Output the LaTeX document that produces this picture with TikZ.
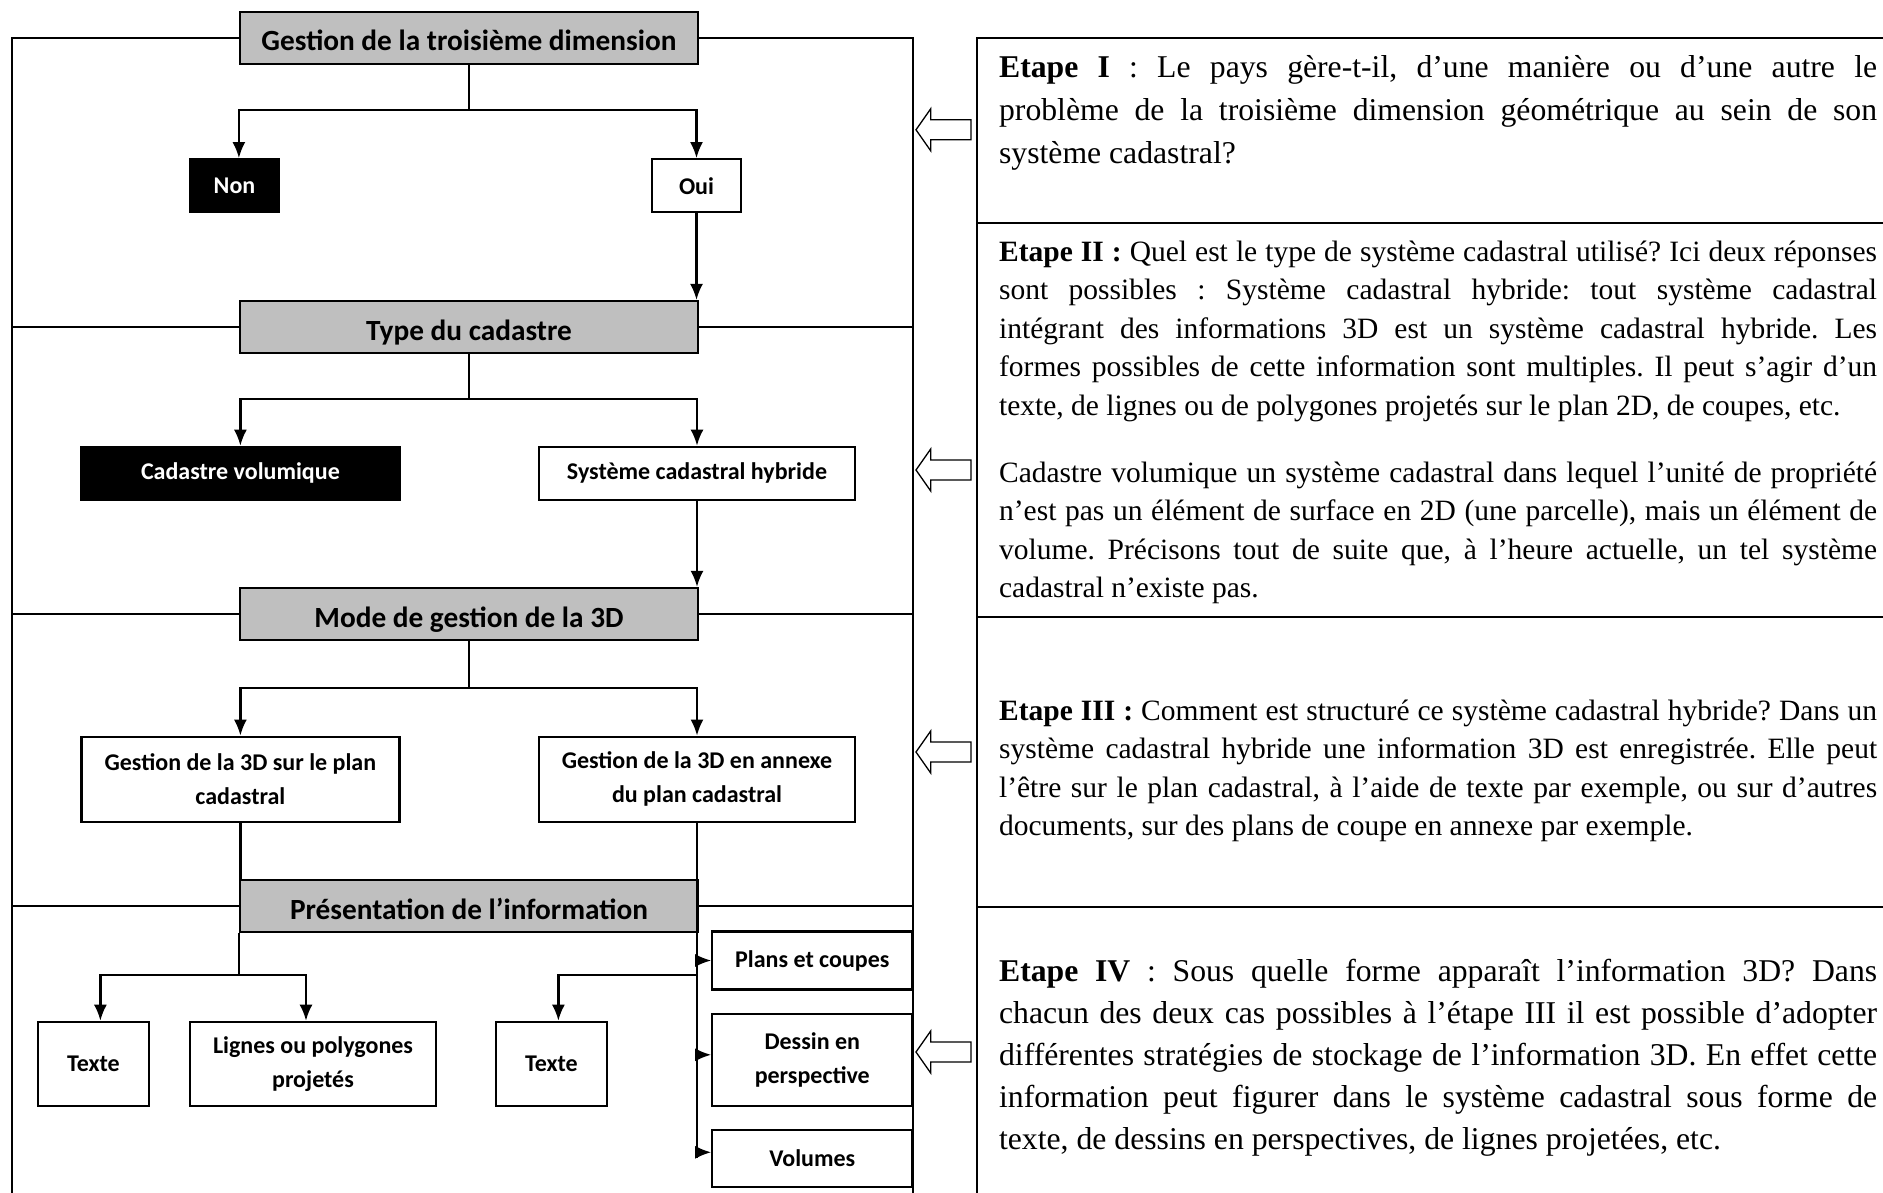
\documentclass[tikz,border=0pt]{standalone}
\usepackage{fontspec}
\setmainfont{Liberation Serif}
\newfontfamily\calib{Carlito}
\usepackage{tikz}
\usetikzlibrary{arrows.meta}
\definecolor{grisfond}{RGB}{191,191,191}
\frenchspacing
\tolerance=10000
\hyphenpenalty=10000
\exhyphenpenalty=10000
\hbadness=10000

\tikzset{
    fleche/.style={-{Latex[length=16pt,width=13pt]}},
    titre/.style={draw,fill=grisfond,minimum width=458pt,minimum height=52pt,inner sep=0pt,text height=26pt,text depth=0pt,font=\calib\bfseries\fontsize{29.3}{35}\selectfont},
    choix/.style={draw,fill=white,align=center,inner sep=0pt,font=\calib\bfseries\fontsize{24}{33.6}\selectfont},
    rejet/.style={choix,fill=black,text=white},
    etape/.style={anchor=north west,inner sep=0pt,text width=878pt,align=justify},
}

\begin{document}
\begin{tikzpicture}[x=1pt,y=-1pt,line width=2.2pt]
    \useasboundingbox (0,0) rectangle (1883,1193);
    \coordinate (fg) at (12,1200);
    \coordinate (fd) at (912.7,1200);

    \node[titre] (gest) at (469,37.7) {Gestion de la troisième dimension};
    \node[rejet,minimum width=89pt,minimum height=53pt] (non) at (234.5,185.7) {Non};
    \node[choix,minimum width=89pt,minimum height=53pt] (oui) at (696.5,185.7) {Oui};
    \node[titre] (type) at (469,327) {Type du cadastre};
    \node[rejet,minimum width=318pt,minimum height=53pt] (vol) at (240.4,473.3) {Cadastre volumique};
    \node[choix,minimum width=316pt,minimum height=53pt] (hyb) at (697,473.3) {Système cadastral hybride};
    \node[titre] (mode) at (469,614) {Mode de gestion de la 3D};
    \node[choix,minimum width=318pt,minimum height=85pt] (surplan) at (240.4,779.2) {Gestion de la 3D sur le plan\\cadastral};
    \node[choix,minimum width=316pt,minimum height=85pt] (annexe) at (697,779.2) {Gestion de la 3D en annexe\\du plan cadastral};
    \node[titre] (pres) at (469,906) {Présentation de l’information};
    \node[choix,minimum width=111pt,minimum height=84pt] (texteA) at (93.4,1063.8) {Texte};
    \node[choix,minimum width=246pt,minimum height=84pt] (lignes) at (313,1063.8) {Lignes ou polygones\\projetés};
    \node[choix,minimum width=111pt,minimum height=84pt] (texteB) at (551.4,1063.8) {Texte};
    \node[choix,minimum width=200pt,minimum height=58pt] (plans) at (812.3,960.5) {Plans et coupes};
    \node[choix,minimum width=200pt,minimum height=92pt] (dessin) at (812.3,1059.8) {Dessin en\\perspective};
    \node[choix,minimum width=200pt,minimum height=57pt] (volumes) at (812.3,1158.3) {Volumes};

    \draw (gest.west) -| (fg);
    \draw (gest.east) -| (fd);
    \draw (type.west) -- (type.west -| fg) (type.east) -- (type.east -| fd);
    \draw (mode.west) -- (mode.west -| fg) (mode.east) -- (mode.east -| fd);
    \draw (pres.west) -- (pres.west -| fg) (pres.east) -- (pres.east -| fd);

    \draw (gest.south) -- ++(0,45) coordinate (b1);
    \draw[fleche] (b1) -| (gest.west |- non.north);
    \draw[fleche] (b1) -| (oui.north);
    \draw[fleche] (oui.south) -- (oui.south |- type.north);
    \draw (type.south) -- ++(0,45) coordinate (b2);
    \draw[fleche] (b2) -| (vol.north);
    \draw[fleche] (b2) -| (hyb.north);
    \draw[fleche] (hyb.south) -- (hyb.south |- mode.north);
    \draw (mode.south) -- ++(0,47) coordinate (b3);
    \draw[fleche] (b3) -| (surplan.north);
    \draw[fleche] (b3) -| (annexe.north);
    \draw (surplan.south) -- (surplan.south |- pres.north);
    \draw (annexe.south) -- (annexe.south |- volumes.west);
    \draw (pres.south west) -- ++(0,42) coordinate (b4);
    \draw[fleche] (b4) -| ([xshift=7pt]texteA.north);
    \draw[fleche] (b4) -| ([xshift=-7pt]lignes.north);
    \draw[fleche] (annexe.south |- b4) -| ([xshift=7pt]texteB.north);
    \draw[fleche] (annexe.south |- plans.west) -- (plans.west);
    \draw[fleche] (annexe.south |- dessin.west) ++(0,-5) -- ([yshift=5pt]dessin.west);
    \draw[fleche] (annexe.south |- volumes.west) ++(0,-6) -- ([yshift=6pt]volumes.west);

    \foreach \y in {129.8,470,752,1052}
        \draw[line width=1.3pt] (916,\y) -- (930.7,\y-21) -- (930.7,\y-10) -- (971,\y-10) -- (971,\y+10) -- (930.7,\y+10) -- (930.7,\y+21) -- cycle;

    \draw (1890,37.7) -| (976.7,1200);
    \foreach \y in {222.7,617,907}
        \draw (976.7,\y) -- (1890,\y);

    \node[etape,font=\fontsize{31.7}{43}\selectfont] (et1) at (998,46.4) {\strut\textbf{Etape I} : Le pays gère-t-il, d’une manière ou d’une autre le\linebreak problème de la troisième dimension géométrique au sein de son\linebreak système cadastral?};
    \node[etape,font=\fontsize{29.5}{38.4}\selectfont] (et2) at (998,233.6) {\strut\textbf{Etape II :} Quel est le type de système cadastral utilisé? Ici deux réponses\linebreak sont possibles : Système cadastral hybride: tout système cadastral\linebreak intégrant des informations 3D est un système cadastral hybride. Les\linebreak formes possibles de cette information sont multiples. Il peut s’agir d’un\linebreak texte, de lignes ou de polygones projetés sur le plan 2D, de coupes, etc.\par\vspace{29pt}
        Cadastre volumique un système cadastral dans lequel l’unité de propriété\linebreak n’est pas un élément de surface en 2D (une parcelle), mais un élément de\linebreak volume. Précisons tout de suite que, à l’heure actuelle, un tel système\linebreak cadastral n’existe pas.};
    \node[etape,font=\fontsize{29.5}{38.4}\selectfont] (et3) at (998,692.6) {\strut\textbf{Etape III :} Comment est structuré ce système cadastral hybride? Dans un\linebreak système cadastral hybride une information 3D est enregistrée. Elle peut\linebreak l’être sur le plan cadastral, à l’aide de texte par exemple, ou sur d’autres\linebreak documents, sur des plans de coupe en annexe par exemple.};
    \node[etape,font=\fontsize{31.7}{42}\selectfont] (et4) at (998,950.5) {\strut\textbf{Etape IV} : Sous quelle forme apparaît l’information 3D? Dans\linebreak chacun des deux cas possibles à l’étape III il est possible d’adopter\linebreak différentes stratégies de stockage de l’information 3D. En effet cette\linebreak information peut figurer dans le système cadastral sous forme de\linebreak texte, de dessins en perspectives, de lignes projetées, etc.};
\end{tikzpicture}
\end{document}
